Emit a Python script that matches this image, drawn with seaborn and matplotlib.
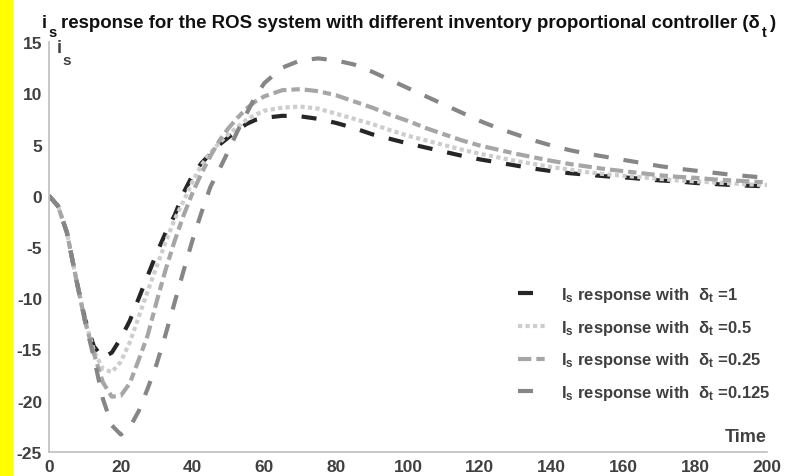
import numpy as np
import pandas as pd
import matplotlib
matplotlib.use("Agg")
import matplotlib.pyplot as plt
import seaborn as sns

t = [0, 2.5, 5, 7.5, 10, 12.5, 15, 17.5, 20, 22.5, 25, 27.5, 30, 32.5, 35, 37.5, 40,
     42.5, 45, 47.5, 50, 52.5, 55, 57.5, 60, 65, 70, 75, 80, 85, 90, 95, 100, 105,
     110, 115, 120, 125, 130, 135, 140, 145, 150, 155, 160, 165, 170, 175, 180, 185,
     190, 195, 200]

is_d1 = [0, -1.0, -3.6, -8.0, -12.0, -14.7, -15.8, -15.3, -13.9, -12.2, -10.0, -7.8,
         -5.6, -3.6, -1.9, 0.3, 2.0, 3.2, 4.1, 5.0, 5.7, 6.4, 7.0, 7.4, 7.6, 7.8, 7.75,
         7.5, 7.1, 6.6, 6.0, 5.55, 5.1, 4.7, 4.3, 3.9, 3.55, 3.25, 2.95, 2.65, 2.4,
         2.2, 2.05, 1.9, 1.8, 1.65, 1.5, 1.4, 1.25, 1.15, 1.05, 0.98, 0.92]

is_d05 = [0, -1.0, -3.6, -8.0, -12.1, -15.1, -16.9, -17.2, -16.2, -14.3, -11.8, -9.3,
          -6.9, -4.5, -2.3, -0.5, 1.4, 3.0, 4.2, 5.2, 6.0, 6.7, 7.4, 7.9, 8.3, 8.6,
          8.7, 8.5, 8.0, 7.5, 7.0, 6.4, 5.85, 5.4, 4.95, 4.5, 4.1, 3.75, 3.4, 3.1,
          2.8, 2.55, 2.3, 2.1, 1.95, 1.8, 1.65, 1.5, 1.4, 1.3, 1.2, 1.1, 1.05]

is_d025 = [0, -1.0, -3.6, -8.0, -12.2, -15.4, -18.2, -19.6, -19.5, -18.3, -16.0, -13.6,
           -10.3, -7.2, -4.4, -1.9, 0.3, 2.2, 3.9, 5.4, 6.6, 7.6, 8.5, 9.2, 9.7, 10.3,
           10.4, 10.2, 9.8, 9.2, 8.6, 7.9, 7.3, 6.6, 6.0, 5.4, 4.9, 4.5, 4.1, 3.75,
           3.4, 3.1, 2.85, 2.6, 2.4, 2.2, 2.0, 1.85, 1.75, 1.6, 1.5, 1.4, 1.3]

is_d0125 = [0, -1.0, -3.6, -8.0, -12.2, -15.8, -19.8, -22.4, -23.3, -22.6, -21.0, -18.8,
            -16.4, -13.5, -10.4, -7.3, -4.3, -1.6, 0.9, 2.6, 4.4, 6.3, 8.0, 9.7, 11.0,
            12.5, 13.2, 13.4, 13.2, 12.8, 12.1, 11.3, 10.5, 9.7, 8.9, 8.1, 7.3, 6.6,
            6.0, 5.4, 4.9, 4.45, 4.1, 3.8, 3.5, 3.2, 2.9, 2.65, 2.45, 2.25, 2.05, 1.9,
            1.75]

labels = [r"I$_\mathbf{s}$ response with  δ$_\mathbf{t}$ =1",
          r"I$_\mathbf{s}$ response with  δ$_\mathbf{t}$ =0.5",
          r"I$_\mathbf{s}$ response with  δ$_\mathbf{t}$ =0.25",
          r"I$_\mathbf{s}$ response with  δ$_\mathbf{t}$ =0.125"]
series = [is_d1, is_d05, is_d025, is_d0125]

xticks = [0, 20, 40, 60, 80, 100, 120, 140, 160, 180, 200]
yticks = [-25, -20, -15, -10, -5, 0, 5, 10, 15]

title_main = "response for the ROS system with different inventory proportional controller (δ"

rows = []
for lab, vals in zip(labels, series):
    for tt, v in zip(t, vals):
        rows.append({"t": tt, "v": v, "series": lab})
df = pd.DataFrame(rows)

sns.set_theme(style="white")
plt.rcParams['font.family'] = ['Liberation Sans', 'DejaVu Sans']
plt.rcParams['font.weight'] = 'bold'
plt.rcParams['axes.unicode_minus'] = False
plt.rcParams['mathtext.fontset'] = 'custom'
plt.rcParams['mathtext.rm'] = 'Liberation Sans:bold'
plt.rcParams['mathtext.bf'] = 'Liberation Sans:bold'
plt.rcParams['mathtext.it'] = 'Liberation Sans:bold'

W, H = 799, 477
fig = plt.figure(figsize=(W / 100, H / 100), dpi=100)
fig.patches.append(matplotlib.patches.Rectangle((0, 0), 13 / W, 1, transform=fig.transFigure,
                                                facecolor="#ffff00", edgecolor="none", zorder=0))
ax = fig.add_axes([49 / W, 1 - 453 / H, (767 - 49) / W, (453 - 43) / H])

palette = {labels[0]: "#262626", labels[1]: "#cdcdcd", labels[2]: "#a6a6a6", labels[3]: "#868686"}
dashes = {labels[0]: (3.6, 3.6), labels[1]: (1, 0.8), labels[2]: (3.2, 1.2, 2.0, 1.2), labels[3]: (3.6, 3.6)}

sns.lineplot(data=df, x="t", y="v", hue="series", style="series", palette=palette,
             dashes=dashes, linewidth=3.0, ax=ax, legend=True)

ax.set_xlim(0, 200)
ax.set_ylim(-25, 15)
ax.set_xticks(xticks)
ax.set_yticks(yticks)
ax.tick_params(axis='both', length=0, labelsize=12.5, labelcolor="#404040")
ax.tick_params(axis='x', pad=5)
ax.tick_params(axis='y', pad=5)
for lab in ax.get_xticklabels() + ax.get_yticklabels():
    lab.set_fontweight('bold')
ax.set_xlabel("")
ax.set_ylabel("")
for s in ["top", "right"]:
    ax.spines[s].set_visible(False)
for s in ["left", "bottom"]:
    ax.spines[s].set_color("#bfbfbf")
    ax.spines[s].set_linewidth(1.2)


def px(x, y):
    return x / W, 1 - y / H


renderer = fig.canvas.get_renderer()

# title with manual subscripts
fig.text(*px(42, 28), "i", fontsize=13.4, fontweight='bold', color="#111111", ha='left', va='baseline')
fig.text(*px(48, 37), "s", fontsize=10.5, fontweight='bold', color="#111111", ha='left', va='baseline')
tm = fig.text(*px(61, 28), title_main, fontsize=13.4, fontweight='bold', color="#111111",
              ha='left', va='baseline')
bb = tm.get_window_extent(renderer)
x_end = bb.x1
fig.text((x_end + 2) / W, 1 - 37 / H, "t", fontsize=10.5, fontweight='bold', color="#111111",
         ha='left', va='baseline')
fig.text((x_end + 10) / W, 1 - 28 / H, ")", fontsize=13.4, fontweight='bold', color="#111111",
         ha='left', va='baseline')

# y label i_s
fig.text(*px(57, 53), "i", fontsize=13, fontweight='bold', color="#404040", ha='left', va='baseline')
fig.text(*px(62, 65), "s", fontsize=11, fontweight='bold', color="#404040", ha='left', va='baseline')

ax.text(200, -23.9, "Time", fontsize=13, fontweight='bold', color="#404040", ha='right', va='baseline')

leg = ax.legend(loc='upper left', bbox_to_anchor=px(518, 286), bbox_transform=fig.transFigure,
                frameon=False, fontsize=12, handlelength=1.6, handletextpad=1.0,
                labelspacing=0.82, borderpad=0, borderaxespad=0)
for txt in leg.get_texts():
    txt.set_color("#404040")
    txt.set_fontweight('bold')

fig.savefig("out.png", dpi=100)
